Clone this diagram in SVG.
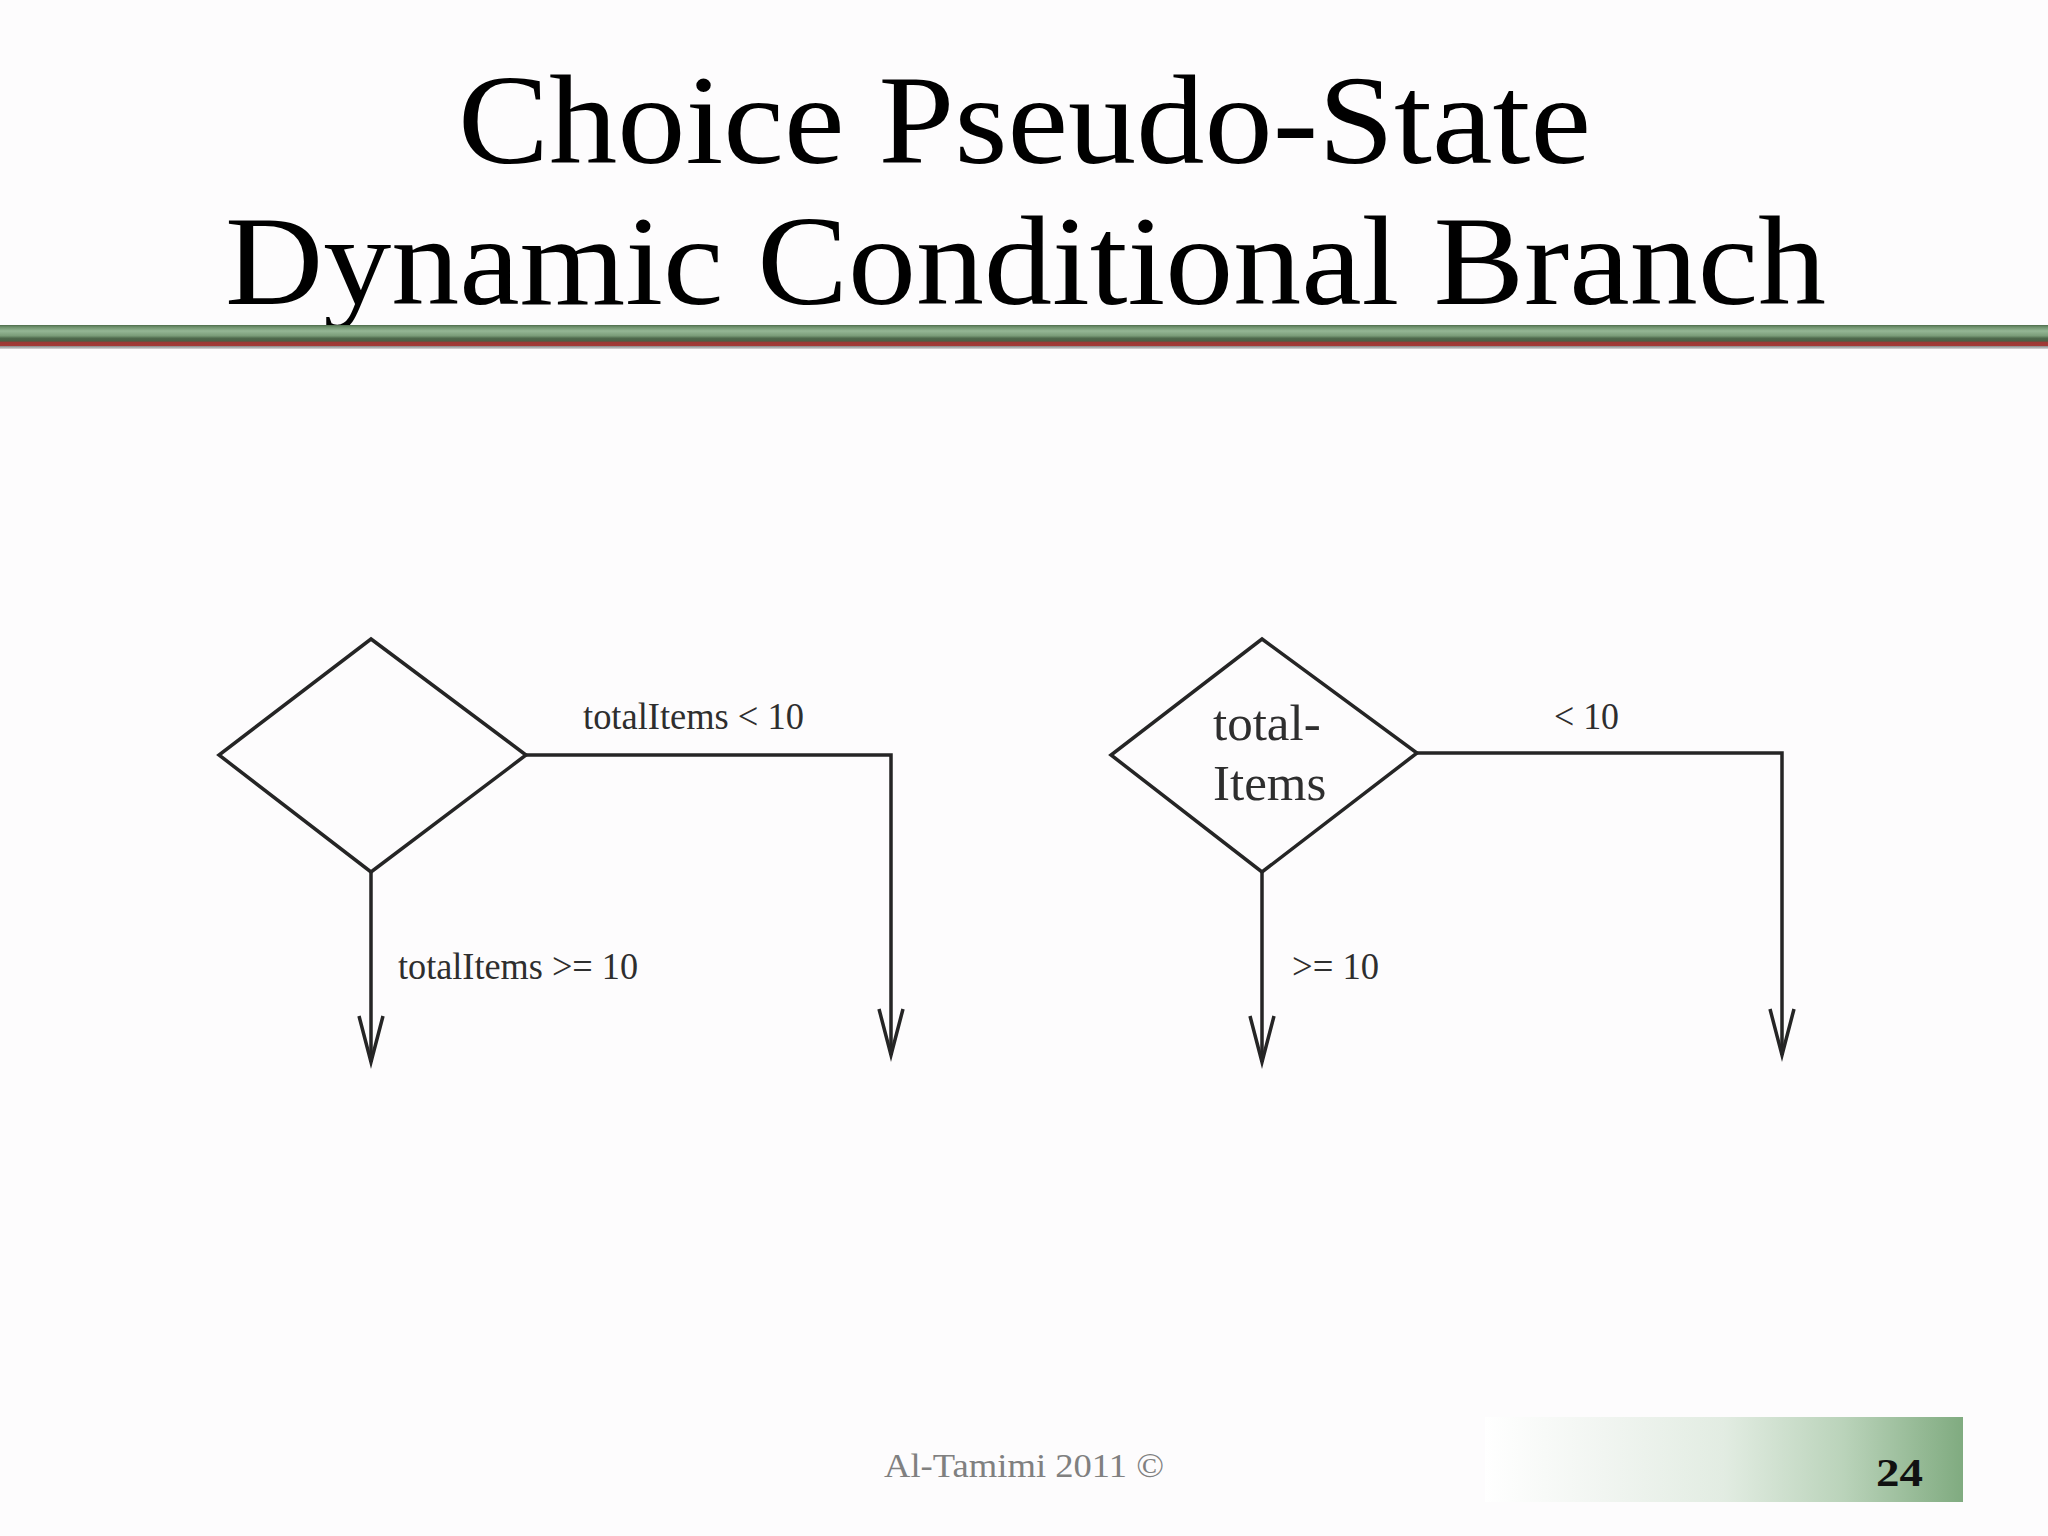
<svg xmlns="http://www.w3.org/2000/svg" width="2048" height="1536" viewBox="0 0 2048 1536">
<defs>
<style>
.title{font-family:"Liberation Serif","Times New Roman",serif;font-size:128px;fill:#000}
.lbl{font-family:"Liberation Serif","Times New Roman",serif;font-size:38px;fill:#2e2e2e}
.inner{font-family:"Liberation Serif","Times New Roman",serif;font-size:51px;fill:#2e2e2e}
.shape{fill:none;stroke:#252525;stroke-width:3.5;stroke-linejoin:miter}
.conn{fill:none;stroke:#252525;stroke-width:3.5}
.foot{font-family:"Liberation Serif","Times New Roman",serif;font-size:33px;fill:#808080}
.num{font-family:"Liberation Serif","Times New Roman",serif;font-size:40px;font-weight:bold;fill:#111}
</style>
<linearGradient id="bar" x1="0" y1="0" x2="0" y2="1">
<stop offset="0" stop-color="#4d6b4b"/>
<stop offset="0.08" stop-color="#6d8f6b"/>
<stop offset="0.25" stop-color="#95b795"/>
<stop offset="0.45" stop-color="#7a9c78"/>
<stop offset="0.55" stop-color="#4f6a4c"/>
<stop offset="0.68" stop-color="#4a5e44"/>
<stop offset="0.70" stop-color="#9a3a34"/>
<stop offset="0.86" stop-color="#a23a36"/>
<stop offset="0.88" stop-color="#8a8a8a"/>
<stop offset="1" stop-color="#d8d8d8"/>
</linearGradient>
<linearGradient id="footbox" x1="0" y1="0" x2="1" y2="0">
<stop offset="0" stop-color="#ffffff"/>
<stop offset="0.25" stop-color="#f1f5f1"/>
<stop offset="0.5" stop-color="#e2ece2"/>
<stop offset="0.75" stop-color="#bad3ba"/>
<stop offset="1" stop-color="#80ab80"/>
</linearGradient>
<marker id="arrow" markerUnits="userSpaceOnUse" markerWidth="60" markerHeight="40" viewBox="-50 -20 60 40" refX="0" refY="0" orient="auto">
<path d="M -46 -12 L 0 0 L -46 12" fill="none" stroke="#252525" stroke-width="3.5"/>
</marker>
</defs>
<rect x="0" y="0" width="2048" height="1536" fill="#fdfcfd"/>
<g id="title">
<text class="title" x="458" y="163" textLength="1133" lengthAdjust="spacingAndGlyphs">Choice Pseudo-State</text>
<text class="title" x="225" y="304" textLength="1601" lengthAdjust="spacingAndGlyphs">Dynamic Conditional Branch</text>
</g>
<g id="header-bar">
<rect x="0" y="325" width="2048" height="24" fill="url(#bar)"/>
</g>
<g id="choice-left">
<polygon class="shape" points="371,639 526,755 371,872 219,755"/>
</g>
<g id="choice-right">
<polygon class="shape" points="1262,639 1417,753 1262,872 1111,755"/>
<text class="inner" x="1213" y="740">total-</text>
<text class="inner" x="1213" y="800">Items</text>
</g>
<g id="connectors">
<path class="conn" d="M 526 755 H 891 V 1055" marker-end="url(#arrow)"/>
<path class="conn" d="M 371 872 V 1062" marker-end="url(#arrow)"/>
<path class="conn" d="M 1417 753 H 1782 V 1055" marker-end="url(#arrow)"/>
<path class="conn" d="M 1262 872 V 1062" marker-end="url(#arrow)"/>
<text class="lbl" x="583" y="729" textLength="221" lengthAdjust="spacingAndGlyphs">totalItems &lt; 10</text>
<text class="lbl" x="398" y="979" textLength="240" lengthAdjust="spacingAndGlyphs">totalItems &gt;= 10</text>
<text class="lbl" x="1554" y="729" textLength="65" lengthAdjust="spacingAndGlyphs">&lt; 10</text>
<text class="lbl" x="1292" y="979" textLength="87" lengthAdjust="spacingAndGlyphs">&gt;= 10</text>
</g>
<g id="footer">
<rect x="1485" y="1417" width="478" height="85" fill="url(#footbox)"/>
<text class="foot" x="884" y="1477" textLength="280" lengthAdjust="spacingAndGlyphs">Al-Tamimi 2011 ©</text>
<text class="num" x="1876" y="1486" textLength="47" lengthAdjust="spacingAndGlyphs">24</text>
</g>
</svg>
